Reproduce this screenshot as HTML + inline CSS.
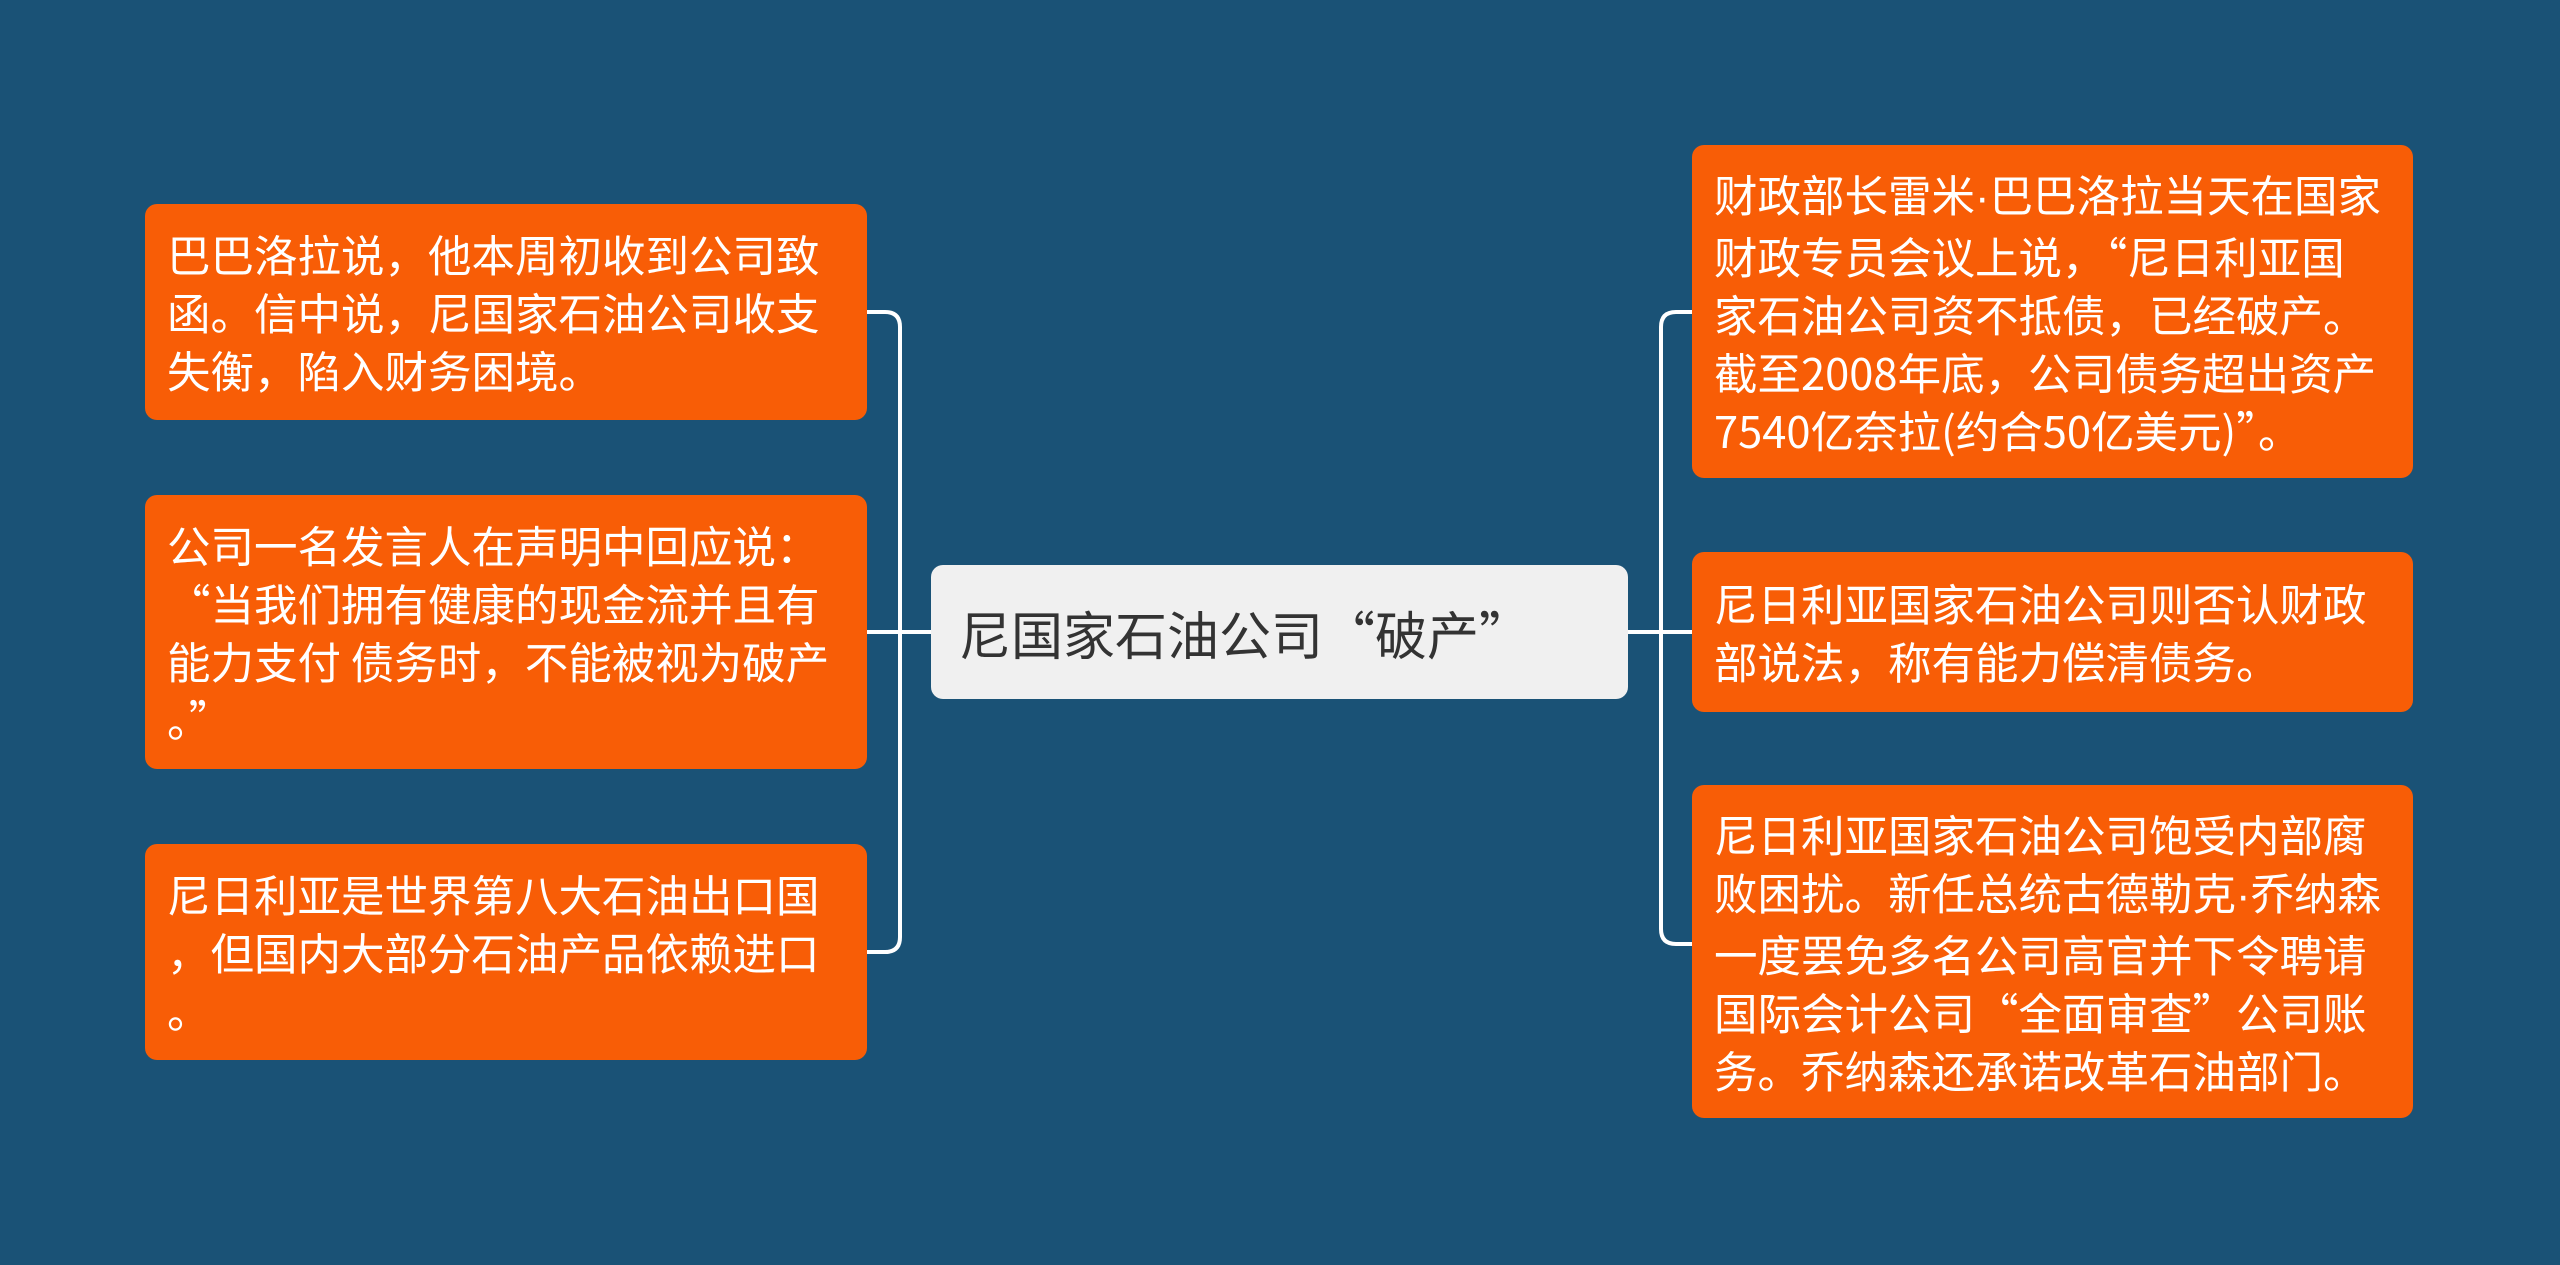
<!DOCTYPE html>
<html><head><meta charset="utf-8"><style>
body{margin:0;width:2560px;height:1265px;background:#1a5276;overflow:hidden;position:relative;font-family:"Noto Sans CJK SC","Liberation Sans",sans-serif}
.b{position:absolute;background:#f85d06;color:#fff;border-radius:12px;font-size:43.5px;line-height:58px;padding:0 10px 0 22px;box-sizing:border-box;white-space:nowrap;display:flex;align-items:center}
.c{position:absolute;left:931px;top:565px;width:697px;height:134px;background:#f0f0f0;border-radius:12px;color:#333;font-size:52px;display:flex;align-items:center;padding-left:28px;box-sizing:border-box;white-space:nowrap}
.d{font-family:"Liberation Sans",sans-serif}
</style></head><body>
<svg width="2560" height="1265" style="position:absolute;left:0;top:0">
<g fill="none" stroke="#fff" stroke-width="4">
<path d="M867 312 H885 Q900 312 900 327 V937 Q900 952 885 952 H867"/>
<path d="M867 632 H931"/>
<path d="M1628 632 H1692"/>
<path d="M1692 312 H1676 Q1661 312 1661 327 V929 Q1661 944 1676 944 H1692"/>
</g></svg>
<div class="b" style="left:145px;top:204px;width:722px;height:216px"><div>巴巴洛拉说，他本周初收到公司致<br>函。信中说，尼国家石油公司收支<br>失衡，陷入财务困境。</div></div>
<div class="b" style="left:145px;top:495px;width:722px;height:274px"><div>公司一名发言人在声明中回应说：<br>“当我们拥有健康的现金流并且有<br>能力支付 债务时，不能被视为破产<br>。”</div></div>
<div class="b" style="left:145px;top:844px;width:722px;height:216px"><div>尼日利亚是世界第八大石油出口国<br>，但国内大部分石油产品依赖进口<br>。</div></div>
<div class="c"><div>尼国家石油公司“破产”</div></div>
<div class="b" style="left:1692px;top:145px;width:721px;height:333px"><div>财政部长雷米<span class="d">·</span>巴巴洛拉当天在国家<br>财政专员会议上说，“尼日利亚国<br>家石油公司资不抵债，已经破产。<br>截至2008年底，公司债务超出资产<br>7540亿奈拉(约合50亿美元)”。</div></div>
<div class="b" style="left:1692px;top:552px;width:721px;height:160px"><div>尼日利亚国家石油公司则否认财政<br>部说法，称有能力偿清债务。</div></div>
<div class="b" style="left:1692px;top:785px;width:721px;height:333px"><div>尼日利亚国家石油公司饱受内部腐<br>败困扰。新任总统古德勒克<span class="d">·</span>乔纳森<br>一度罢免多名公司高官并下令聘请<br>国际会计公司“全面审查”公司账<br>务。乔纳森还承诺改革石油部门。</div></div>
</body></html>
